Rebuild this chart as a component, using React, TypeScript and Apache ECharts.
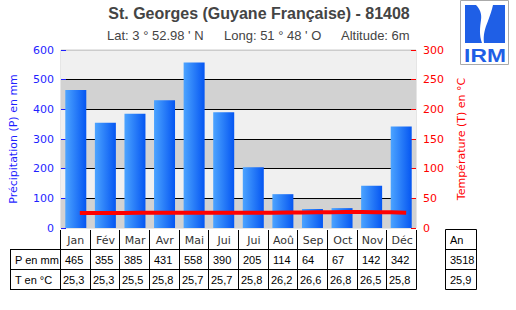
import React, { useEffect, useRef } from "react";
import * as echarts from "echarts";

const months = ["Jan", "Fév", "Mar", "Avr", "Mai", "Jui", "Jui", "Aoû", "Sep", "Oct", "Nov", "Déc"];
const precipitation = [465, 355, 385, 431, 558, 390, 205, 114, 64, 67, 142, 342];
const temperature = [25.3, 25.3, 25.5, 25.8, 25.7, 25.7, 25.8, 26.2, 26.6, 26.8, 26.5, 25.8];
const annualPrecip = 3518;
const annualTemp = 25.9;
const titleText = "St. Georges (Guyane Française) - 81408";
const subtitleParts = ["Lat: 3 ° 52.98 ' N", "Long: 51 ° 48 ' O", "Altitude: 6m"];
const rowLabels = ["P en mm", "T en °C"];
const annualHeader = "An";

const fmtT = (v: number) => v.toFixed(1).replace(".", ",");

// layout
const GL = 60, GT = 50, GW = 356, GH = 178;
const BLUE = "#1f1fff";
const RED = "#ff0000";
const LOGO_BLUE = "#1f5fe6";

let registered = false;
function registerLogo() {
  if (registered) return;
  registered = true;
  echarts.graphic.registerShape(
    "logoLeft",
    echarts.graphic.extendPath("M5 5 L16 5 C20 9 22 14 21 20 C20 27 19 35 22 43 L5 43 Z", {})
  );
  echarts.graphic.registerShape(
    "logoRight",
    echarts.graphic.extendPath("M33 5 L45 5 L45 43 L24 43 C23 35 25 28 28 21 C30 15 32 10 33 5 Z", {})
  );
}

export default function App() {
  const ref = useRef<HTMLDivElement>(null);
  useEffect(() => {
    document.body.style.margin = "0";
    registerLogo();
    const chart = echarts.init(ref.current!, null, { renderer: "svg" });
    const colW = GW / 12;
    const y0 = 230, y1 = 249.5, y2 = 269.5, y3 = 289.5;
    const tableRight = GL + GW + 0.5;
    const g: any[] = [];
    const line = (x1: number, ya: number, x2: number, yb: number) =>
      g.push({ type: "line", shape: { x1, y1: ya, x2, y2: yb }, style: { stroke: "#000", lineWidth: 1 }, z: 10 });
    line(10, y1, tableRight, y1);
    line(10, y2, tableRight, y2);
    line(10, y3, tableRight, y3);
    line(10.5, y1, 10.5, y3);
    for (let i = 0; i <= 12; i++) {
      const x = Math.round(GL + i * colW) + 0.5;
      line(x, y0, x, y3);
    }
    months.forEach((m, i) => {
      g.push({
        type: "text", z: 10,
        style: { text: m, x: GL + (i + 0.5) * colW + 1, y: 240, align: "center", verticalAlign: "middle", fill: "#333", font: "11px 'DejaVu Sans'" },
      });
      const lx = Math.round(GL + i * colW) + 4;
      g.push({ type: "text", z: 10, style: { text: String(precipitation[i]), x: lx + 1, y: 260, verticalAlign: "middle", fill: "#000", font: "11px 'Liberation Sans'" } });
      g.push({ type: "text", z: 10, style: { text: fmtT(temperature[i]), x: lx - 1, y: 280, verticalAlign: "middle", fill: "#000", font: "11px 'Liberation Sans'" } });
    });
    rowLabels.forEach((t, i) => {
      g.push({ type: "text", z: 10, style: { text: t, x: 15, y: 260 + i * 20, verticalAlign: "middle", fill: "#000", font: "11px 'Liberation Sans'" } });
    });
    // annual table
    g.push({ type: "rect", z: 10, shape: { x: 445.5, y: 229.5, width: 31, height: 60 }, style: { fill: "none", stroke: "#000", lineWidth: 1 } });
    line(445.5, y1, 476.5, y1);
    line(445.5, y2, 476.5, y2);
    g.push({ type: "text", z: 10, style: { text: annualHeader, x: 450, y: 240, verticalAlign: "middle", fill: "#000", font: "11px 'Liberation Sans'" } });
    g.push({ type: "text", z: 10, style: { text: String(annualPrecip), x: 450, y: 260, verticalAlign: "middle", fill: "#000", font: "11px 'Liberation Sans'" } });
    g.push({ type: "text", z: 10, style: { text: fmtT(annualTemp), x: 450, y: 280, verticalAlign: "middle", fill: "#000", font: "11px 'Liberation Sans'" } });
    // title
    g.push({ type: "text", z: 10, style: { text: titleText, x: 259, y: 13, align: "center", verticalAlign: "middle", fill: "#444", font: "bold 16px 'Liberation Sans'" } });
    const subX = [107, 224, 341];
    subtitleParts.forEach((t, i) => {
      g.push({ type: "text", z: 10, style: { text: t, x: subX[i], y: 35, verticalAlign: "middle", fill: "#444", font: "13px 'Liberation Sans'" } });
    });
    // logo
    g.push({ type: "rect", z: 10, shape: { x: 460.5, y: 0.5, width: 48, height: 64 }, style: { fill: "#fff", stroke: "#aaa", lineWidth: 1 } });
    g.push({ type: "logoLeft", z: 11, x: 460, y: 0, style: { fill: LOGO_BLUE } });
    g.push({ type: "logoRight", z: 11, x: 460, y: 0, style: { fill: LOGO_BLUE } });
    g.push({ type: "text", z: 11, x: 485, y: 55, scaleX: 1.2, style: { text: "IRM", x: 0, y: 0, align: "center", verticalAlign: "middle", fill: LOGO_BLUE, font: "bold 19px 'Liberation Sans'" } });

    chart.setOption({
      animation: false,
      grid: [
        { left: GL, top: GT, width: GW, height: GH, show: true, backgroundColor: "#f0f0f0", borderColor: "#cccccc", borderWidth: 1 },
        { left: GL + 5, top: GT, width: GW, height: GH, show: false },
      ],
      xAxis: [
        { type: "category", gridIndex: 0, data: months, axisLabel: { show: false }, axisTick: { show: false }, axisLine: { show: false } },
        { type: "category", gridIndex: 1, data: months, show: false },
      ],
      yAxis: [
        {
          type: "value", gridIndex: 0, min: 0, max: 600, interval: 100, position: "left",
          name: "Précipitation (P) en mm", nameLocation: "middle", nameGap: 42,
          nameTextStyle: { color: BLUE, fontFamily: "DejaVu Sans", fontSize: 11 },
          axisLine: { show: false },
          axisTick: { show: true, inside: true, length: 5, lineStyle: { color: BLUE } },
          axisLabel: { color: BLUE, fontFamily: "DejaVu Sans", fontSize: 11, margin: 7 },
          splitLine: { show: true, lineStyle: { color: ["rgba(0,0,0,0)", "#000", "#000", "#000", "#000", "#000", "#cccccc"], width: 1 } },
          splitArea: { show: true, areaStyle: { color: ["#d2d2d2", "#f0f0f0"] } },
        },
        {
          type: "value", gridIndex: 0, min: 0, max: 300, interval: 50, position: "right",
          name: "Température (T) en °C", nameLocation: "middle", nameGap: 40,
          nameTextStyle: { color: RED, fontFamily: "DejaVu Sans", fontSize: 11 },
          axisLine: { show: false },
          axisTick: { show: true, inside: true, length: 5, lineStyle: { color: RED } },
          axisLabel: { color: RED, fontFamily: "DejaVu Sans", fontSize: 11, margin: 7 },
          splitLine: { show: false },
        },
        { type: "value", gridIndex: 1, min: 0, max: 300, show: false },
      ],
      series: [
        {
          type: "bar", xAxisIndex: 0, yAxisIndex: 0, data: precipitation, barWidth: 21,
          itemStyle: {
            color: new echarts.graphic.LinearGradient(0, 0, 1, 0, [
              { offset: 0, color: "#4ca4ff" },
              { offset: 1, color: "#0556f2" },
            ]),
          },
        },
        {
          type: "line", xAxisIndex: 1, yAxisIndex: 2, data: temperature, step: "middle", symbol: "none",
          lineStyle: { color: RED, width: 4 }, z: 5,
        },
      ],
      graphic: g,
    });
    return () => chart.dispose();
  }, []);
  return <div ref={ref} style={{ width: 516, height: 310 }} />;
}
